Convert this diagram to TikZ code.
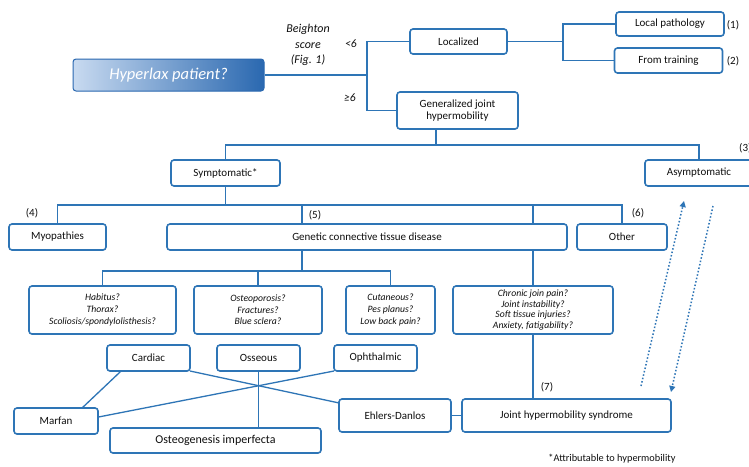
\documentclass[tikz,border=0pt]{standalone}
\usepackage{fontspec}
\setmainfont{Carlito}
\usetikzlibrary{calc,arrows.meta}
\definecolor{lb}{RGB}{46,117,182}
\definecolor{hl}{RGB}{200,218,240}
\definecolor{hd}{RGB}{42,104,176}
\definecolor{tx}{RGB}{15,15,15}
\tikzset{
  bx/.style={draw=lb, line width=1.6pt, rounded corners=3pt, fill=white, inner sep=1pt, outer sep=0pt, align=center, text=tx},
  ln/.style={draw=lb, line width=1.6pt},
  dl/.style={draw=lb, line width=1.5pt, dotted, -{Triangle[length=6pt,width=6pt]}},
  lab/.style={text=tx, inner sep=0pt, font=\fontsize{11}{12}\selectfont},
  it/.style={font=\fontsize{9.7}{11.6}\selectfont\itshape}
}
\begin{document}
\begin{tikzpicture}[x=1pt,y=-1pt, font=\fontsize{11}{12.5}\selectfont]
\clip (0,0) rectangle (749,466);
\fill[white] (0,0) rectangle (749,466);
% boxes
\node[draw=hd, line width=1pt, rounded corners=3pt, left color=hl, right color=hd, minimum width=191pt, minimum height=32pt, text=white, font=\fontsize{16.5}{18}\selectfont\itshape] (hyper) at (168.5,75) {Hyperlax patient?};
\node[bx, minimum width=97pt, minimum height=25pt] (loc) at (458.5,41.5) {Localized};
\node[bx, minimum width=108pt, minimum height=24pt] (lp) at (670,24) {Local pathology};
\node[bx, minimum width=108pt, minimum height=25pt] (ft) at (668.5,60.5) {From training};
\node[bx, minimum width=121pt, minimum height=37pt] (gen) at (457.5,110.5) {Generalized joint\\hypermobility};
\node[bx, minimum width=109pt, minimum height=26pt] (sym) at (225.5,173) {Symptomatic*};
\node[bx, minimum width=108pt, minimum height=26pt] (asym) at (699,173) {Asymptomatic};
\node[bx, minimum width=97pt, minimum height=26pt] (myo) at (57.5,237) {Myopathies};
\node[bx, minimum width=400pt, minimum height=26pt] (gctd) at (367,237) {Genetic connective tissue disease};
\node[bx, minimum width=90pt, minimum height=26pt] (other) at (622,237) {Other};
\node[bx, it, minimum width=147pt, minimum height=48pt] (hab) at (102.5,310) {Habitus?\\Thorax?\\Scoliosis/spondylolisthesis?};
\node[bx, it, minimum width=128pt, minimum height=48pt] (ost) at (258,310) {Osteoporosis?\\Fractures?\\Blue sclera?};
\node[bx, it, minimum width=89pt, minimum height=48pt] (cut) at (390.5,310) {Cutaneous?\\Pes planus?\\Low back pain?};
\node[bx, it, minimum width=160pt, minimum height=48pt, font=\fontsize{9.7}{10.8}\selectfont\itshape] (chr) at (533,310) {Chronic join pain?\\Joint instability?\\Soft tissue injuries?\\Anxiety, fatigability?};
\node[bx, minimum width=83pt, minimum height=26pt] (card) at (148.5,358) {Cardiac};
\node[bx, minimum width=83pt, minimum height=26pt] (oss) at (258.5,358) {Osseous};
\node[bx, minimum width=83pt, minimum height=26pt] (oph) at (375.5,358) {Ophthalmic};
\node[bx, minimum width=84pt, minimum height=26pt] (marfan) at (56,421) {Marfan};
\node[bx, minimum width=211pt, minimum height=25pt, font=\fontsize{12}{13}\selectfont] (oi) at (215.5,440.5) {Osteogenesis imperfecta};
\node[bx, minimum width=112pt, minimum height=33pt] (ed) at (395,415.5) {Ehlers-Danlos};
\node[bx, minimum width=209pt, minimum height=33pt] (jhs) at (566.5,415.5) {Joint hypermobility syndrome};
% labels
\node[text=tx, align=center, font=\fontsize{12}{15.5}\selectfont\itshape] (bs) at (308,45) {Beighton\\score\\(Fig. 1)};
\node[text=tx, font=\fontsize{11.5}{12}\selectfont\itshape] (lt) at (351,44) {<6};
\node[text=tx, font=\fontsize{11.5}{12}\selectfont\itshape] (ge) at (350,98) {≥6};
\node[lab] (n1) at (733,25) {(1)};
\node[lab] (n2) at (733,61) {(2)};
\node[lab, anchor=west] (n3) at (739,148) {(3)};
\node[lab] (n4) at (32,213) {(4)};
\node[lab] (n5) at (315,215) {(5)};
\node[lab] (n6) at (638,213) {(6)};
\node[lab] (n7) at (547,387) {(7)};
\node[text=tx, inner sep=0pt, font=\fontsize{10.3}{11}\selectfont] (foot) at (612,459) {*Attributable to hypermobility};
% connectors
\coordinate (j1) at (367,75);
\draw[ln] (hyper.east) -- (j1);
\draw[ln] (loc.west) -| (j1) |- (gen.west);
\coordinate (j2) at (563,42);
\draw[ln] (loc.east) -- (loc.east -| j2);
\draw[ln] (lp.west) -| (j2) |- (ft.west);
\coordinate (j3) at (436,145);
\draw[ln] (gen.south -| j3) -- (j3);
\draw[ln] (sym.north) |- (j3) -| (asym.north);
\coordinate (j4) at (225.5,205);
\draw[ln] (sym.south) -- (j4);
\draw[ln] (myo.north) |- (j4) -| (other.north);
\coordinate (h5) at (302,205);
\coordinate (h6) at (533,205);
\draw[ln] (h5) -- (h5 |- gctd.north);
\draw[ln] (h6) -- (h6 |- gctd.north);
\coordinate (j7) at (302,271);
\draw[ln] (j7 |- gctd.south) -- (j7);
\draw[ln] (hab.north) |- (j7) -| (cut.north);
\draw[ln] (ost.north) -- (ost.north |- j7);
\draw[ln] (chr.north) -- (chr.north |- gctd.south);
\draw[ln] (chr.south) -- (chr.south |- jhs.north);
\draw[ln, line width=1.3pt] ($(card.south west)!0.17!(card.south east)$) -- ($(marfan.north west)!0.81!(marfan.north east)$);
\draw[ln, line width=1.3pt] (card.south east) -- ($(ed.north west)!0.12!(ed.south west)$);
\draw[ln, line width=1.3pt] (oph.south west) -- ($(marfan.north east)!0.35!(marfan.south east)$);
\draw[ln, line width=1.3pt] (oss.south) -- (oss.south |- oi.north);
\draw[ln] (ed.east) -- (jhs.west);
\coordinate (a1) at (641,386);
\coordinate (a2) at (684,201);
\coordinate (b1) at (713,206);
\coordinate (b2) at (671,392);
\draw[dl] (a1) -- (a2);
\draw[dl] (b1) -- (b2);
\end{tikzpicture}
\end{document}
